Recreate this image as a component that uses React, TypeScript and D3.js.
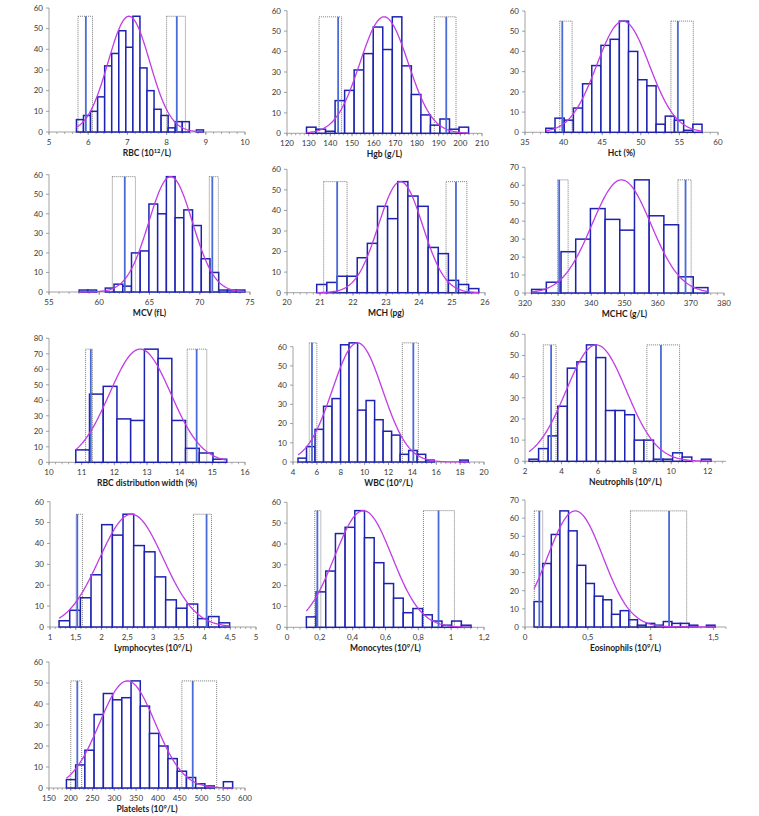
import React from 'react';
import * as d3 from 'd3';

// histogram counts
const RBC_COUNTS = [6, 8, 10, 17, 32, 38, 49, 41, 56, 31, 20, 11, 8, 2, 5, 5, 0, 1];
const HGB_COUNTS = [3, 2, 1, 16, 21, 31, 39, 52, 41, 57, 33, 19, 9, 4, 7, 2, 3];
const HCT_COUNTS = [2, 7, 6, 12, 24, 33, 43, 46, 55, 40, 26, 23, 4, 8, 6, 1, 4];
const MCV_COUNTS = [1, 1, 0, 2, 4, 3, 20, 21, 45, 40, 59, 38, 42, 34, 17, 10, 1, 1, 1];
const MCH_COUNTS = [4, 5, 8, 8, 17, 24, 42, 36, 54, 47, 42, 22, 19, 6, 4, 2];
const MCHC_COUNTS = [2, 6, 23, 30, 47, 41, 35, 63, 43, 38, 9, 3];
const RDW_COUNTS = [8, 44, 49, 28, 27, 73, 67, 27, 9, 6, 2];
const WBC_COUNTS = [2, 8, 17, 29, 33, 61, 62, 27, 32, 22, 16, 14, 4, 6, 4, 1, 0, 0, 0, 1];
const NEU_COUNTS = [1, 6, 12, 26, 44, 47, 55, 49, 24, 24, 22, 10, 10, 1, 1, 4, 2, 0, 1];
const LYM_COUNTS = [3, 8, 14, 25, 49, 44, 54, 39, 36, 24, 13, 9, 11, 4, 5, 2];
const MON_COUNTS = [5, 17, 27, 45, 48, 56, 43, 31, 21, 14, 7, 9, 6, 3, 1, 3, 1];
const EOS_COUNTS = [14, 35, 51, 64, 53, 34, 24, 17, 15, 7, 9, 4, 1, 2, 1, 3, 2, 2, 1, 0, 1];
const PLT_COUNTS = [4, 11, 18, 35, 45, 42, 43, 51, 39, 26, 20, 14, 8, 5, 2, 1, 0, 3];

const COUNTS = [
  RBC_COUNTS, HGB_COUNTS, HCT_COUNTS, MCV_COUNTS, MCH_COUNTS, MCHC_COUNTS, RDW_COUNTS,
  WBC_COUNTS, NEU_COUNTS, LYM_COUNTS, MON_COUNTS, EOS_COUNTS, PLT_COUNTS,
];

const BIN_STARTS = [5.7, 129, 37.7, 58, 20.9, 322, 10.82, 4.42, 2.22, 1.176, 0.118, 0.072, 190];
const BIN_WIDTHS = [0.18, 4.4, 1.19, 0.868, 0.307, 4.43, 0.42, 0.713, 0.524, 0.207, 0.059, 0.0686, 21.2];

// fitted normal curve (mean, sd); peak equals the tallest bar
const FIT_MEAN = [7.04, 164.8, 47.7, 67.1, 23.44, 349.1, 12.79, 9.4, 5.9, 2.58, 0.465, 0.4, 330];
const FIT_SD = [0.53, 11.1, 3.4, 2.17, 0.67, 8.9, 0.94, 2.1, 1.65, 0.62, 0.175, 0.22, 64];

// reference limits: [ci low, limit, ci high]
const REF_LOWER = [
  [5.74, 5.94, 6.11], [134.8, 143.6, 145.2], [39.5, 39.83, 41.1], [61.3, 62.54, 63.6],
  [21.11, 21.52, 21.82], [329.8, 330.3, 333], [11.12, 11.28, 11.33], [5.36, 5.59, 6.0],
  [3.0, 3.43, 3.7], [1.507, 1.53, 1.63], [0.169, 0.185, 0.206], [0.074, 0.114, 0.141],
  [200, 215, 225],
];
const REF_UPPER = [
  [8.0, 8.26, 8.48], [188, 193.5, 198], [53.9, 54.8, 56.8], [70.95, 71.25, 71.85],
  [24.82, 25.12, 25.45], [366.1, 368.4, 370.1], [14.23, 14.52, 14.83], [13.16, 14.08, 14.5],
  [8.67, 9.44, 10.46], [3.785, 4.04, 4.136], [0.831, 0.923, 1.02], [0.839, 1.147, 1.287],
  [455, 480, 535],
];

const X_DOMAINS = [
  [5, 10], [120, 210], [35, 60], [55, 75], [20, 26], [320, 380], [10, 16],
  [4, 20], [2, 13], [1, 5], [0, 1.2], [0, 1.6], [150, 600],
];
const X_STEPS = [1, 10, 5, 5, 1, 10, 1, 2, 2, 0.5, 0.2, 0.5, 50];
const Y_MAXES = [60, 60, 60, 60, 60, 70, 80, 60, 60, 60, 60, 70, 60];

const TITLES = [
  ['RBC (10', '12', '/L)'], ['Hgb (g/L)', '', ''], ['Hct (%)', '', ''], ['MCV (fL)', '', ''],
  ['MCH (pg)', '', ''], ['MCHC (g/L)', '', ''], ['RBC distribution width (%)', '', ''],
  ['WBC (10', '9', '/L)'], ['Neutrophils (10', '9', '/L)'], ['Lymphocytes (10', '9', '/L)'],
  ['Monocytes (10', '9', '/L)'], ['Eosinophils (10', '9', '/L)'], ['Platelets (10', '9', '/L)'],
];

// plot boxes in px: x of domain start, x of domain end, y of y-max, y of zero
const BOXES = [
  [49, 245, 8, 132], [287, 482, 10.7, 133.3], [525, 718, 11, 132.3],
  [49, 250, 174.7, 292], [287, 485, 169.3, 292.7], [525, 724, 167.3, 293],
  [49, 245, 338.3, 462.3], [293, 484, 346.7, 462], [525, 726, 334.3, 461.3],
  [50, 256, 501.7, 627], [287, 484, 502.3, 627.3], [525, 726, 500, 627],
  [49, 245, 662, 788],
];

const BAR = '#1e22b0';
const REF = '#4a6ad6';
const CURVE = '#c03ce6';
const AXIS = '#8a8a8a';
const FONT = 'Lato, "Liberation Sans", Arial, sans-serif';

const fmt = (v: number) => {
  const r = Math.round(v * 100) / 100;
  return Number.isInteger(r) ? String(r) : String(r).replace('.', ',');
};

function Panel({ i }: { i: number }) {
  const [x0, x1, yTop, yBot] = BOXES[i];
  const counts = COUNTS[i];
  const [d0, d1] = X_DOMAINS[i];
  const x = d3.scaleLinear().domain([d0, d1]).range([x0, x1]);
  const y = d3.scaleLinear().domain([0, Y_MAXES[i]]).range([yBot, yTop]);
  const start = BIN_STARTS[i];
  const w = BIN_WIDTHS[i];
  const end = start + w * counts.length;
  const peak = d3.max(counts) as number;
  const mu = FIT_MEAN[i];
  const sd = FIT_SD[i];

  const step = X_STEPS[i];
  const xTicks = d3.range(d0, d1 + step * 0.01, step);
  const minor = step / 5;
  const xMinor = d3.range(d0, d1 + minor * 0.01, minor);
  const yTicks = d3.range(0, Y_MAXES[i] + 1, 10);

  const pts = d3.range(0, 151).map(k => {
    const v = start + ((end - start) * k) / 150;
    return [v, peak * Math.exp(-0.5 * ((v - mu) / sd) ** 2)] as [number, number];
  });
  const line = d3.line<[number, number]>().x(d => x(d[0])).y(d => y(d[1]));

  const refs = [REF_LOWER[i], REF_UPPER[i]];
  const [pre, sup, post] = TITLES[i];

  return (
    <g>
      {/* axes */}
      <line x1={x0} x2={x0} y1={yTop} y2={yBot} stroke={AXIS} strokeWidth={0.8} />
      <line x1={x0} x2={x1} y1={yBot} y2={yBot} stroke={AXIS} strokeWidth={0.8} />
      {yTicks.map(t => (
        <g key={'y' + t}>
          <line x1={x0 - 3} x2={x0} y1={y(t)} y2={y(t)} stroke={AXIS} strokeWidth={0.8} />
          <text x={x0 - 6} y={y(t) + 2.8} textAnchor="end" fontSize={8} fill="#383838" fontFamily={FONT}>{t}</text>
        </g>
      ))}
      {xMinor.map((t, k) => (
        <line key={'m' + k} x1={x(t)} x2={x(t)} y1={yBot} y2={yBot + 2} stroke={AXIS} strokeWidth={0.7} />
      ))}
      {xTicks.map(t => (
        <g key={'x' + t}>
          <line x1={x(t)} x2={x(t)} y1={yBot} y2={yBot + 3} stroke={AXIS} strokeWidth={0.8} />
          <text x={x(t)} y={yBot + 12.5} textAnchor="middle" fontSize={8} fill="#383838" fontFamily={FONT}>{fmt(t)}</text>
        </g>
      ))}

      {/* bars */}
      {counts.map((c, k) => c > 0 && (
        <rect key={'b' + k} x={x(start + k * w)} y={y(c)} width={x(start + (k + 1) * w) - x(start + k * w)}
          height={yBot - y(c)} fill="white" stroke={BAR} strokeWidth={1.5} />
      ))}

      {/* reference limits with confidence boxes */}
      {refs.map((r, k) => (
        <g key={'r' + k}>
          <rect x={x(r[0])} y={y(peak)} width={x(r[2]) - x(r[0])} height={yBot - y(peak)}
            fill="none" stroke="#444" strokeWidth={0.7} strokeDasharray="1,1" />
          <line x1={x(r[1])} x2={x(r[1])} y1={y(peak)} y2={yBot} stroke={REF} strokeWidth={1.8} />
        </g>
      ))}

      <path d={line(pts) as string} fill="none" stroke={CURVE} strokeWidth={1.3} />

      <text x={(x0 + x1) / 2} y={yBot + 23.5} textAnchor="middle" fontSize={8.5} fontWeight="bold" fill="#1c1c1c" fontFamily={FONT}>
        {pre}
        {sup && <tspan dy={-3} fontSize={5.8}>{sup}</tspan>}
        {post && <tspan dy={sup ? 3 : 0}>{post}</tspan>}
      </text>
    </g>
  );
}

export default function App() {
  return (
    <svg width={759} height={816} style={{ position: 'absolute', left: 0, top: 0, background: 'white' }}>
      <rect width={759} height={816} fill="white" />
      {COUNTS.map((_, i) => <Panel key={i} i={i} />)}
    </svg>
  );
}
